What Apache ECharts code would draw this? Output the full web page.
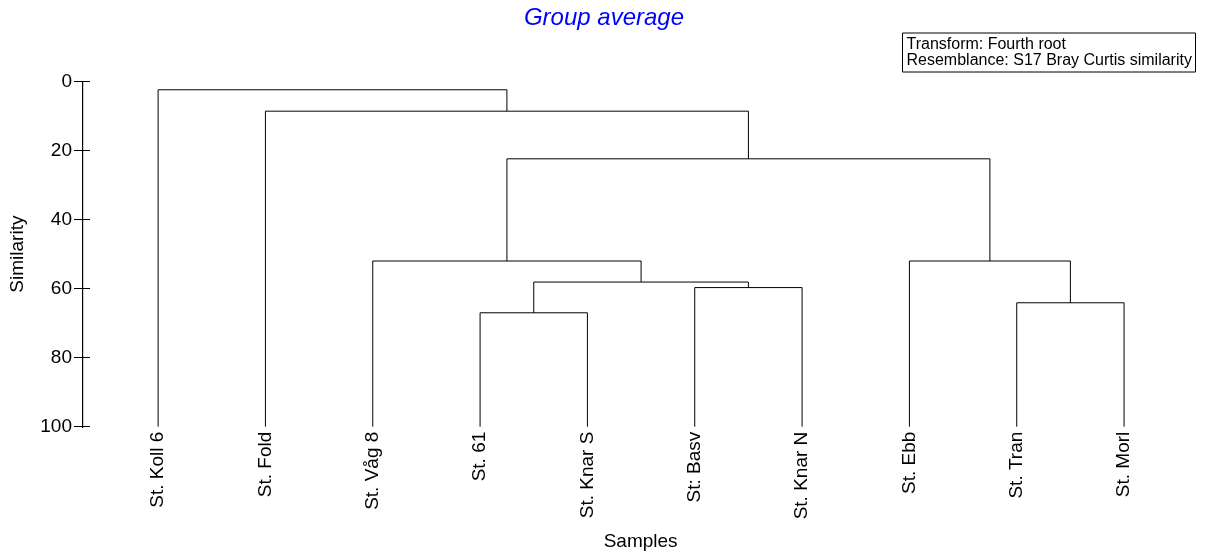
<!DOCTYPE html>
<html>
<head>
<meta charset="utf-8">
<script src="https://cdn.jsdelivr.net/npm/echarts@6/dist/echarts.min.js"></script>
<style>html,body{margin:0;padding:0;background:#fff}#c{width:1208px;height:557px}</style>
</head>
<body>
<div id="c"></div>
<script>
// Samples (leaf order as drawn)
const samples = ['St. Koll 6','St. Fold','St. Våg 8','St. 61','St. Knar S','St: Basv','St. Knar N','St. Ebb','St. Tran','St. Morl'];
// Merges: [nodeA, nodeB, similarity]; nodes 0-9 are samples, merge k creates node 10+k
const mergeA = [3, 5, 10, 2, 8, 7, 13, 1, 0];
const mergeB = [4, 6, 11, 12, 9, 14, 15, 16, 17];
const mergeSim = [67.0, 59.7, 58.1, 52.0, 64.1, 52.0, 22.4, 8.6, 2.4];
const yTicks = [0, 20, 40, 60, 80, 100];
const annotation = ['Transform: Fourth root', 'Resemblance: S17 Bray Curtis similarity'];

const FONT = "'Liberation Sans', Arial, sans-serif";
const leafIdx = samples.map((_, i) => i);
const nodeX = leafIdx.slice();
const nodeH = samples.map(() => 100);
const series = [];
for (let k = 0; k < mergeSim.length; k++) {
  const a = mergeA[k], b = mergeB[k], h = mergeSim[k];
  series.push({
    type: 'line',
    data: [[nodeX[a], nodeH[a]], [nodeX[a], h], [nodeX[b], h], [nodeX[b], nodeH[b]]],
    symbol: 'none', silent: true, animation: false,
    lineStyle: { color: '#000', width: 1 }
  });
  nodeX.push((nodeX[a] + nodeX[b]) / 2);
  nodeH.push(h);
}
// Y axis spine, drawn as a 1px filled strip along the left edge of the coordinate system
series.push({
  type: 'custom', silent: true, clip: false, animation: false, z: 10,
  data: [[0, 0]],
  renderItem: function (params, api) {
    const cs = params.coordSys;
    return {
      type: 'rect',
      shape: { x: Math.round(cs.x), y: Math.round(cs.y), width: 1.2, height: Math.round(cs.height) + 1 },
      style: { fill: '#000' }
    };
  }
});

const chart = echarts.init(document.getElementById('c'), null, { renderer: 'canvas' });
chart.setOption({
  backgroundColor: '#fff',
  animation: false,
  title: {
    text: 'Group average', left: 'center', top: 1,
    textStyle: { color: '#0000ff', fontStyle: 'italic', fontWeight: 'normal', fontSize: 24, fontFamily: FONT }
  },
  grid: { left: 80.8, right: 8.8, top: 81.5, bottom: 130.3, containLabel: false },
  xAxis: {
    type: 'value', min: -0.709, max: 9.7,
    axisLine: { show: false, onZero: false }, axisTick: { show: false }, splitLine: { show: false },
    axisLabel: { customValues: leafIdx, rotate: 90, margin: 5, color: '#000', fontSize: 19, fontFamily: FONT,
      formatter: v => samples[Math.round(v)] || '' },
    name: 'Samples', nameLocation: 'middle', nameGap: 106,
    nameTextStyle: { color: '#000', fontSize: 19, fontFamily: FONT }
  },
  yAxis: [
    {
      type: 'value', inverse: true, min: 0, max: 100, interval: 20, position: 'left',
      axisLine: { show: true, onZero: false, lineStyle: { color: '#000', width: 1, type: 'solid', opacity: 1 } },
      axisTick: { show: true, length: 8, lineStyle: { color: '#000', width: 1 } },
      splitLine: { show: false },
      axisLabel: { color: '#000', fontSize: 19, fontFamily: FONT, margin: 10,
        formatter: v => yTicks.indexOf(v) >= 0 ? String(v) : '' },
      name: 'Similarity', nameLocation: 'middle', nameGap: 55, nameRotate: 90,
      nameTextStyle: { color: '#000', fontSize: 19, fontFamily: FONT }
    },
    {
      type: 'value', inverse: true, min: 0, max: 100, interval: 20, position: 'left',
      axisLine: { show: true, onZero: false, lineStyle: { color: '#000', width: 1, type: 'solid', opacity: 1 } },
      axisTick: { show: true, inside: true, length: 8, lineStyle: { color: '#000', width: 1 } },
      splitLine: { show: false }, axisLabel: { show: false }
    }
  ],
  graphic: [
    {
      type: 'group', left: 902, top: 32.5,
      children: [
        { type: 'rect', shape: { x: 0, y: 0, width: 293, height: 39 },
          style: { fill: '#fff', stroke: '#000', lineWidth: 1 } },
        { type: 'text', x: 4, y: 3, style: { text: annotation.join('\n'), fill: '#000',
          font: "16px " + FONT, lineHeight: 16.5 } }
      ]
    }
  ],
  series: series
});
</script>
</body>
</html>
